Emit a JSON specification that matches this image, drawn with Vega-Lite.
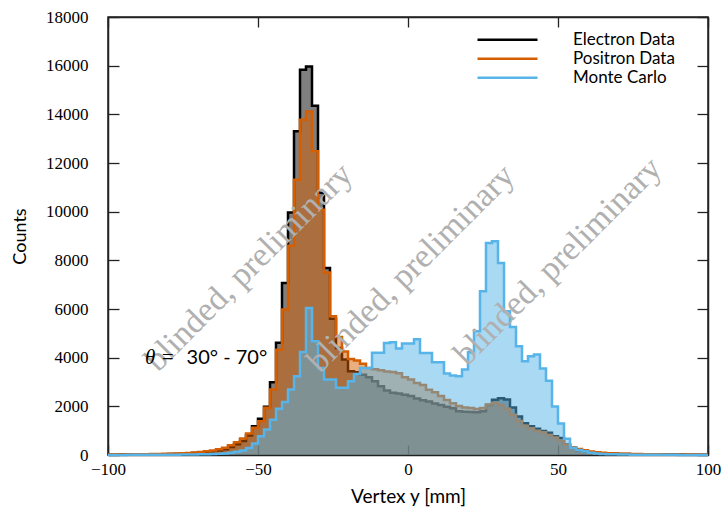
{
  "$schema": "https://vega.github.io/schema/vega-lite/v6.json",
  "width": 600,
  "height": 438,
  "autosize": {"type": "none"},
  "padding": {"left": 108, "top": 17, "right": 20, "bottom": 59},
  "background": "white",
  "config": {
    "view": {"stroke": "#222", "strokeWidth": 1.5},
    "font": "Lato",
    "axis": {"grid": false, "domainColor": "#222", "domainWidth": 1.5, "tickColor": "#222", "tickWidth": 1.3, "labelColor": "#000", "titleColor": "#000", "labelFlush": false, "labelOverlap": false, "titleFontWeight": "normal"}
  },
  "datasets": {
    "hist": [
      {"x": -100, "e": 15, "p": 20, "m": 5},
      {"x": -98, "e": 15, "p": 20, "m": 5},
      {"x": -96, "e": 18, "p": 22, "m": 5},
      {"x": -94, "e": 20, "p": 25, "m": 6},
      {"x": -92, "e": 20, "p": 28, "m": 6},
      {"x": -90, "e": 22, "p": 30, "m": 7},
      {"x": -88, "e": 25, "p": 33, "m": 8},
      {"x": -86, "e": 28, "p": 37, "m": 9},
      {"x": -84, "e": 30, "p": 42, "m": 10},
      {"x": -82, "e": 35, "p": 48, "m": 11},
      {"x": -80, "e": 40, "p": 55, "m": 12},
      {"x": -78, "e": 45, "p": 62, "m": 14},
      {"x": -76, "e": 55, "p": 72, "m": 16},
      {"x": -74, "e": 65, "p": 85, "m": 18},
      {"x": -72, "e": 80, "p": 100, "m": 22},
      {"x": -70, "e": 95, "p": 120, "m": 26},
      {"x": -68, "e": 120, "p": 150, "m": 32},
      {"x": -66, "e": 150, "p": 190, "m": 40},
      {"x": -64, "e": 190, "p": 240, "m": 50},
      {"x": -62, "e": 240, "p": 300, "m": 65},
      {"x": -60, "e": 330, "p": 400, "m": 90},
      {"x": -58, "e": 440, "p": 520, "m": 130},
      {"x": -56, "e": 580, "p": 680, "m": 190},
      {"x": -54, "e": 800, "p": 880, "m": 290},
      {"x": -52, "e": 1180, "p": 1117, "m": 470},
      {"x": -50, "e": 1490, "p": 1390, "m": 770},
      {"x": -48, "e": 1980, "p": 1940, "m": 1050},
      {"x": -46, "e": 2990, "p": 2690, "m": 1450},
      {"x": -44, "e": 4610, "p": 4330, "m": 1900},
      {"x": -42, "e": 7070, "p": 5975, "m": 2180},
      {"x": -40, "e": 9970, "p": 8600, "m": 2690},
      {"x": -38, "e": 13300, "p": 11310, "m": 3240},
      {"x": -36, "e": 15830, "p": 13780, "m": 4230},
      {"x": -34, "e": 15970, "p": 14120, "m": 6045},
      {"x": -32, "e": 14350, "p": 12480, "m": 4675},
      {"x": -30, "e": 10780, "p": 10080, "m": 3580},
      {"x": -28, "e": 7690, "p": 7500, "m": 3100},
      {"x": -26, "e": 5600, "p": 5700, "m": 3100},
      {"x": -24, "e": 4400, "p": 4850, "m": 2760},
      {"x": -22, "e": 3920, "p": 4250, "m": 2760},
      {"x": -20, "e": 3440, "p": 3950, "m": 3030},
      {"x": -18, "e": 3400, "p": 3880, "m": 3330},
      {"x": -16, "e": 3300, "p": 3750, "m": 3580},
      {"x": -14, "e": 3200, "p": 3580, "m": 3580},
      {"x": -12, "e": 3030, "p": 3520, "m": 4200},
      {"x": -10, "e": 2830, "p": 3480, "m": 4200},
      {"x": -8, "e": 2650, "p": 3430, "m": 4600},
      {"x": -6, "e": 2560, "p": 3410, "m": 4630},
      {"x": -4, "e": 2530, "p": 3360, "m": 4380},
      {"x": -2, "e": 2480, "p": 3200, "m": 4580},
      {"x": 0, "e": 2420, "p": 3100, "m": 4580},
      {"x": 2, "e": 2320, "p": 2960, "m": 4760},
      {"x": 4, "e": 2250, "p": 2880, "m": 4195},
      {"x": 6, "e": 2200, "p": 2680, "m": 4195},
      {"x": 8, "e": 2120, "p": 2580, "m": 3810},
      {"x": 10, "e": 2050, "p": 2420, "m": 3810},
      {"x": 12, "e": 1980, "p": 2260, "m": 3350},
      {"x": 14, "e": 1920, "p": 2130, "m": 3265},
      {"x": 16, "e": 1800, "p": 2010, "m": 3240},
      {"x": 18, "e": 1780, "p": 1950, "m": 3510},
      {"x": 20, "e": 1770, "p": 1930, "m": 4220},
      {"x": 22, "e": 1760, "p": 1890, "m": 5085},
      {"x": 24, "e": 1800, "p": 1930, "m": 6730},
      {"x": 26, "e": 2050, "p": 2080, "m": 8715},
      {"x": 28, "e": 2270, "p": 2150, "m": 8780},
      {"x": 30, "e": 2330, "p": 2050, "m": 7890},
      {"x": 32, "e": 2280, "p": 1900, "m": 5905},
      {"x": 34, "e": 1950, "p": 1650, "m": 5265},
      {"x": 36, "e": 1580, "p": 1400, "m": 4470},
      {"x": 38, "e": 1300, "p": 1200, "m": 3850},
      {"x": 40, "e": 1180, "p": 1100, "m": 4060},
      {"x": 42, "e": 1080, "p": 1000, "m": 4130},
      {"x": 44, "e": 990, "p": 930, "m": 3550},
      {"x": 46, "e": 910, "p": 820, "m": 3050},
      {"x": 48, "e": 775, "p": 720, "m": 1990},
      {"x": 50, "e": 700, "p": 600, "m": 1290},
      {"x": 52, "e": 430, "p": 420, "m": 665},
      {"x": 54, "e": 295, "p": 320, "m": 295},
      {"x": 56, "e": 200, "p": 250, "m": 210},
      {"x": 58, "e": 150, "p": 200, "m": 150},
      {"x": 60, "e": 110, "p": 140, "m": 90},
      {"x": 62, "e": 85, "p": 110, "m": 60},
      {"x": 64, "e": 70, "p": 90, "m": 45},
      {"x": 66, "e": 60, "p": 75, "m": 35},
      {"x": 68, "e": 50, "p": 65, "m": 28},
      {"x": 70, "e": 45, "p": 55, "m": 22},
      {"x": 72, "e": 40, "p": 48, "m": 18},
      {"x": 74, "e": 35, "p": 42, "m": 15},
      {"x": 76, "e": 30, "p": 37, "m": 12},
      {"x": 78, "e": 28, "p": 33, "m": 10},
      {"x": 80, "e": 25, "p": 30, "m": 9},
      {"x": 82, "e": 22, "p": 27, "m": 8},
      {"x": 84, "e": 20, "p": 25, "m": 7},
      {"x": 86, "e": 18, "p": 22, "m": 6},
      {"x": 88, "e": 17, "p": 20, "m": 6},
      {"x": 90, "e": 16, "p": 18, "m": 5},
      {"x": 92, "e": 15, "p": 17, "m": 5},
      {"x": 94, "e": 14, "p": 16, "m": 5},
      {"x": 96, "e": 13, "p": 15, "m": 4},
      {"x": 98, "e": 12, "p": 14, "m": 4},
      {"x": 100, "e": 12, "p": 14, "m": 4}
    ]
  },
  "data": {"name": "hist"},
  "resolve": {"axis": {"x": "independent", "y": "independent"}},
  "layer": [
    {
      "mark": {"type": "area", "interpolate": "step-after", "fill": "#000000", "fillOpacity": 0.5},
      "encoding": {
        "x": {"field": "x", "type": "quantitative", "scale": {"domain": [-100, 100], "nice": false, "zero": false},
          "axis": {"orient": "bottom", "values": [-100, -50, 0, 50, 100], "tickSize": -10, "labelPadding": 16, "labelFont": "Liberation Serif", "labelFontSize": 17, "title": "Vertex y [mm]", "titleFont": "Lato", "titleFontSize": 19, "titlePadding": 10}},
        "y": {"field": "e", "type": "quantitative", "scale": {"domain": [0, 18000], "nice": false},
          "axis": {"orient": "left", "values": [0, 2000, 4000, 6000, 8000, 10000, 12000, 14000, 16000, 18000], "format": "d", "tickSize": -11, "labelPadding": 31, "labelFont": "Liberation Serif", "labelFontSize": 17, "title": "Counts", "titleFont": "Lato", "titleFontSize": 18, "titlePadding": 16}}
      }
    },
    {
      "mark": {"type": "line", "interpolate": "step-after", "strokeWidth": 2.5},
      "encoding": {
        "x": {"field": "x", "type": "quantitative",
          "axis": {"orient": "top", "values": [-100, -50, 0, 50, 100], "tickSize": -10, "labels": false, "title": null}},
        "y": {"field": "e", "type": "quantitative",
          "axis": {"orient": "right", "values": [0, 2000, 4000, 6000, 8000, 10000, 12000, 14000, 16000, 18000], "tickSize": -11, "labels": false, "title": null}},
        "color": {"datum": "Electron Data",
          "scale": {"domain": ["Electron Data", "Positron Data", "Monte Carlo"], "range": ["#000000", "#d55e00", "#56b4e9"]},
          "legend": {"orient": "none", "legendX": 368, "legendY": 14, "title": null, "symbolType": "stroke", "symbolSize": 3600, "symbolStrokeWidth": 2.5, "labelFont": "Lato", "labelFontSize": 17, "labelColor": "#000", "labelOffset": 34, "clipHeight": 17.5, "rowPadding": 0, "padding": 0}}
      }
    },
    {
      "mark": {"type": "area", "interpolate": "step-after", "fill": "#d55e00", "fillOpacity": 0.5},
      "encoding": {
        "x": {"field": "x", "type": "quantitative", "axis": null},
        "y": {"field": "p", "type": "quantitative", "axis": null}
      }
    },
    {
      "mark": {"type": "line", "interpolate": "step-after", "strokeWidth": 2.5},
      "encoding": {
        "x": {"field": "x", "type": "quantitative", "axis": null},
        "y": {"field": "p", "type": "quantitative", "axis": null},
        "color": {"datum": "Positron Data"}
      }
    },
    {
      "mark": {"type": "area", "interpolate": "step-after", "fill": "#56b4e9", "fillOpacity": 0.5},
      "encoding": {
        "x": {"field": "x", "type": "quantitative", "axis": null},
        "y": {"field": "m", "type": "quantitative", "axis": null}
      }
    },
    {
      "mark": {"type": "line", "interpolate": "step-after", "strokeWidth": 2.5},
      "encoding": {
        "x": {"field": "x", "type": "quantitative", "axis": null},
        "y": {"field": "m", "type": "quantitative", "axis": null},
        "color": {"datum": "Monte Carlo"}
      }
    },
    {
      "data": {"values": [{"x": -53, "y": 7700}, {"x": 1, "y": 7650}, {"x": 50, "y": 7950}]},
      "mark": {"type": "text", "text": "blinded, preliminary", "angle": -45, "font": "Liberation Serif", "fontSize": 34, "color": "#b0b0b0", "align": "center", "baseline": "middle"},
      "encoding": {
        "x": {"field": "x", "type": "quantitative", "axis": null},
        "y": {"field": "y", "type": "quantitative", "axis": null}
      }
    },
    {
      "data": {"values": [{"x": -87.7, "y": 4000, "t": "θ ="}]},
      "mark": {"type": "text", "font": "Liberation Serif", "fontStyle": "italic", "fontSize": 21, "color": "#000", "align": "left", "baseline": "middle"},
      "encoding": {
        "x": {"field": "x", "type": "quantitative", "axis": null},
        "y": {"field": "y", "type": "quantitative", "axis": null},
        "text": {"field": "t"}
      }
    },
    {
      "data": {"values": [{"x": -73.8, "y": 4000, "t": "30° - 70°"}]},
      "mark": {"type": "text", "font": "Lato", "fontSize": 20, "color": "#000", "align": "left", "baseline": "middle"},
      "encoding": {
        "x": {"field": "x", "type": "quantitative", "axis": null},
        "y": {"field": "y", "type": "quantitative", "axis": null},
        "text": {"field": "t"}
      }
    }
  ]
}
